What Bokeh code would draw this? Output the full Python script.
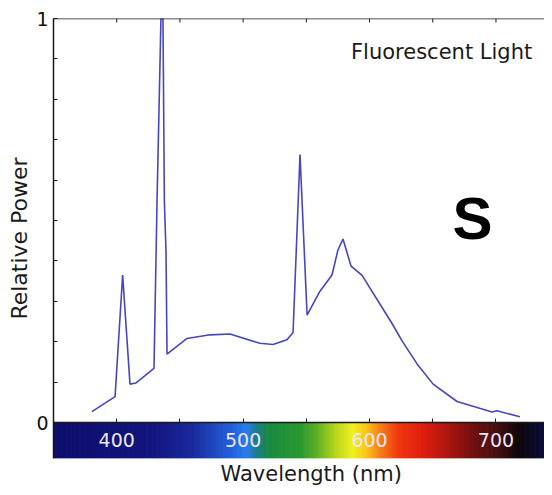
import numpy as np
from bokeh.plotting import figure
from bokeh.models import LinearAxis, FixedTicker, Range1d, Label, Span, Title
from bokeh.embed import file_html
from bokeh.resources import INLINE

# ---- data ----
wavelength = [380.4, 398.7, 404.7, 410.5, 415.3, 429.5, 431.9, 435.0, 436.6, 437.7, 439.0, 439.8,
              455.6, 473.8, 489.6, 513.3, 523.6, 534.7, 539.5, 545.0, 550.6, 560.8, 570.3, 575.0,
              579.0, 585.4, 594.1, 617.8, 625.7, 637.6, 650.3, 669.2, 685.1, 696.9, 700.8, 719.0]
power = [0.027, 0.064, 0.365, 0.095, 0.098, 0.134, 0.548, 1.0, 1.0, 0.548, 0.424, 0.169,
         0.208, 0.217, 0.219, 0.196, 0.193, 0.205, 0.223, 0.663, 0.266, 0.325, 0.365, 0.427,
         0.454, 0.387, 0.364, 0.245, 0.202, 0.145, 0.095, 0.052, 0.037, 0.026, 0.029, 0.014]

x_major_ticks = [400, 500, 600, 700]
x_minor_ticks = [450, 550, 650]
y_major_ticks = [0, 1]
y_minor_ticks = [0.1, 0.2, 0.3, 0.4, 0.5, 0.6, 0.7, 0.8, 0.9]

# spectrum colour bar anchor stops (nm -> colour)
spectrum_nm = [350, 430, 460, 490, 502, 510, 520, 545, 558, 572, 586, 597, 607, 622, 642, 662, 682, 702, 716, 730, 745]
spectrum_colors = ["#0e0e6c", "#141680", "#1a2c9e", "#2460dc", "#2a7cf0", "#1c7c8c", "#1a8a40", "#2a9a30",
                   "#60b024", "#b4d41e", "#f2f020", "#f8c418", "#f88418", "#f03810", "#e01e10", "#aa1610",
                   "#701010", "#401010", "#120808", "#0a0a24", "#101060"]

x_start, x_end = 350, 738.4
y_start, y_end = -0.0891, 1.0

p = figure(width=544, height=487, x_range=Range1d(x_start, x_end), y_range=Range1d(y_start, y_end),
           output_backend="svg", toolbar_location=None, x_axis_location=None,
           min_border_left=53, min_border_right=0, min_border_top=18, min_border_bottom=29)
p.outline_line_color = None
p.grid.visible = False
p.background_fill_color = "white"
p.border_fill_color = "white"

axis_col = "#1a1a1a"

# colour bar
bar_nm = np.arange(x_start, x_end, 1.0)
def hex2rgb(h):
    return [int(h[i:i + 2], 16) for i in (1, 3, 5)]
rgb = np.array([hex2rgb(c) for c in spectrum_colors], dtype=float)
cols = []
for w in bar_nm:
    r = np.interp(w, spectrum_nm, rgb[:, 0])
    g = np.interp(w, spectrum_nm, rgb[:, 1])
    b = np.interp(w, spectrum_nm, rgb[:, 2])
    cols.append("#%02x%02x%02x" % (int(r), int(g), int(b)))
p.quad(left=bar_nm, right=bar_nm + 1.6, bottom=y_start, top=0, fill_color=cols, line_color=None)

# top frame line with inward ticks
p.add_layout(Span(location=y_end, dimension="width", line_color=axis_col, line_width=1.5))
top_ticks = x_major_ticks + x_minor_ticks
tick_len = 4 / 404.0
p.segment(x0=top_ticks, y0=[y_end] * len(top_ticks), x1=top_ticks,
          y1=[y_end - tick_len] * len(top_ticks), line_color=axis_col, line_width=1)

# spectrum curve
p.line(wavelength, power, line_color="#4646c4", line_width=1.6)

# y axis
ya = p.yaxis[0]
ya.ticker = FixedTicker(ticks=y_major_ticks, minor_ticks=y_minor_ticks)
ya.major_tick_in = 4
ya.major_tick_out = 0
ya.minor_tick_in = 4
ya.minor_tick_out = 0
ya.axis_line_color = axis_col
ya.axis_line_width = 1.5
ya.major_tick_line_color = axis_col
ya.minor_tick_line_color = axis_col
ya.major_label_standoff = 5
ya.major_label_text_font = "DejaVu Sans"
ya.major_label_text_font_size = "19px"
ya.major_label_text_color = "#111111"
ya.axis_label = "Relative Power"
ya.axis_label_standoff = 1
ya.axis_label_text_font = "DejaVu Sans"
ya.axis_label_text_font_size = "22px"
ya.axis_label_text_font_style = "normal"
ya.axis_label_text_color = "#1a1a1a"

# x axis on the baseline, labels inside the colour bar
xa = LinearAxis(fixed_location=0, ticker=FixedTicker(ticks=x_major_ticks, minor_ticks=x_minor_ticks),
                major_tick_in=4, major_tick_out=0, minor_tick_in=4, minor_tick_out=0,
                major_label_standoff=10, major_label_text_color="#ece6f6",
                major_label_text_font="DejaVu Sans", major_label_text_font_size="19px",
                axis_line_color=axis_col, axis_line_width=1.5,
                major_tick_line_color=axis_col, minor_tick_line_color=axis_col)
p.add_layout(xa, "below")

# x axis title below the colour bar
p.add_layout(Title(text="Wavelength (nm)", align="left", offset=167, standoff=3,
                   text_font="DejaVu Sans", text_font_size="21px", text_font_style="normal",
                   text_color="#1a1a1a"), "below")

p.add_layout(Label(x=657.0, y=0.918, text="Fluorescent Light", text_align="center",
                   text_baseline="middle", text_font="DejaVu Sans", text_font_size="21px",
                   text_color="#1a1a1a"))
p.add_layout(Label(x=681.5, y=0.505, text="S", text_align="center", text_baseline="middle",
                   text_font="Liberation Sans", text_font_size="60px", text_font_style="bold",
                   text_color="#000000"))

open("out.html", "w").write(file_html(p, INLINE))
